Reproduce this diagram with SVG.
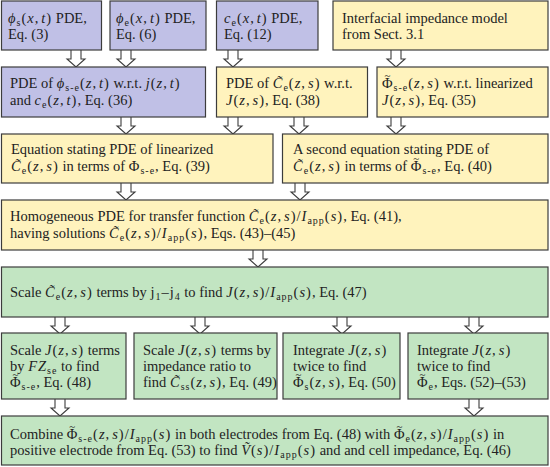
<svg xmlns="http://www.w3.org/2000/svg" xmlns:xlink="http://www.w3.org/1999/xlink" width="550" height="467" viewBox="0 0 550 467">
<style>
rect { stroke: #3c3c3c; stroke-width: 1.2; }
.p { fill: #c0c0e6; }
.y { fill: #fff3bd; }
.g { fill: #c2e5c2; }
text { font-family: "Liberation Serif", "DejaVu Serif", serif; font-size: 14.5px; fill: #222; }
.i { font-style: italic; }
.m { letter-spacing: 1px; }
.s { font-size: 10px; baseline-shift: -3px; font-style: normal; }
.t { font-size: 11px; font-style: normal; }
.arr { fill: #fff; stroke: #3c3c3c; stroke-width: 1.1; stroke-linejoin: miter; }
</style>
<defs>
<path id="a" class="arr" d="M-5,0 L-5,9 L-9,9 L0,17 L9,9 L5,9 L5,0"/>
</defs>
<g id="connectors">
<use xlink:href="#a" x="76" y="50"/>
<use xlink:href="#a" x="126" y="50"/>
<use xlink:href="#a" x="233" y="50"/>
<use xlink:href="#a" x="396" y="50"/>
<use xlink:href="#a" x="126" y="117"/>
<use xlink:href="#a" x="233" y="117"/>
<use xlink:href="#a" x="299" y="117"/>
<use xlink:href="#a" x="396" y="117"/>
<use xlink:href="#a" x="126" y="183"/>
<use xlink:href="#a" x="300" y="183"/>
<use xlink:href="#a" x="258" y="250"/>
<use xlink:href="#a" x="60" y="317"/>
<use xlink:href="#a" x="200" y="317"/>
<use xlink:href="#a" x="342" y="317"/>
<use xlink:href="#a" x="474" y="317"/>
<use xlink:href="#a" x="60" y="399"/>
<use xlink:href="#a" x="474" y="399"/>
</g>
<g id="n1">
<rect class="p" x="1.5" y="1" width="100" height="49"/>
<text x="8" y="23"><tspan class="m"><tspan class="i">ϕ</tspan><tspan class="s">s</tspan>(<tspan class="i">x</tspan>,<tspan class="i" dx="2">t</tspan>)</tspan> PDE,</text>
<text x="8" y="39">Eq. (3)</text>
</g>
<g id="n2">
<rect class="p" x="110" y="1" width="96" height="49"/>
<text x="116" y="23"><tspan class="m"><tspan class="i">ϕ</tspan><tspan class="s">e</tspan>(<tspan class="i">x</tspan>,<tspan class="i" dx="2">t</tspan>)</tspan> PDE,</text>
<text x="116" y="39">Eq. (6)</text>
</g>
<g id="n3">
<rect class="p" x="216.5" y="1" width="101.5" height="49"/>
<text x="224" y="23"><tspan class="m"><tspan class="i">c</tspan><tspan class="s">e</tspan>(<tspan class="i">x</tspan>,<tspan class="i" dx="2">t</tspan>)</tspan> PDE,</text>
<text x="224" y="39">Eq. (12)</text>
</g>
<g id="n4">
<rect class="y" x="333" y="1" width="215" height="49"/>
<text x="342" y="23">Interfacial impedance model</text>
<text x="342" y="39">from Sect. 3.1</text>
</g>
<g id="n5">
<rect class="p" x="1.5" y="67" width="204" height="50"/>
<text x="10" y="88">PDE of <tspan class="m"><tspan class="i">ϕ</tspan><tspan class="s">s-e</tspan>(<tspan class="i">z</tspan>,<tspan class="i" dx="2">t</tspan>)</tspan> w.r.t. <tspan class="m"><tspan class="i">j</tspan>(<tspan class="i">z</tspan>,<tspan class="i" dx="2">t</tspan>)</tspan></text>
<text x="10" y="105">and <tspan class="m"><tspan class="i">c</tspan><tspan class="s">e</tspan>(<tspan class="i">z</tspan>,<tspan class="i" dx="2">t</tspan>)</tspan>, Eq. (36)</text>
</g>
<g id="n6">
<rect class="y" x="216.5" y="67" width="151" height="50"/>
<text x="226" y="88">PDE of <tspan class="m"><tspan class="i">C̃</tspan><tspan class="s">e</tspan>(<tspan class="i">z</tspan>,<tspan class="i" dx="2">s</tspan>)</tspan> w.r.t.</text>
<text x="226" y="105"><tspan class="m"><tspan class="i">J</tspan>(<tspan class="i">z</tspan>,<tspan class="i" dx="2">s</tspan>)</tspan>, Eq. (38)</text>
</g>
<g id="n7">
<rect class="y" x="377" y="67" width="171" height="50"/>
<text x="382" y="88"><tspan class="m">Φ<tspan class="t" dx="-9.2" dy="-9">~</tspan><tspan class="s" dx="2.2" dy="9">s-e</tspan>(<tspan class="i">z</tspan>,<tspan class="i" dx="2">s</tspan>)</tspan> w.r.t. linearized</text>
<text x="382" y="105"><tspan class="m"><tspan class="i">J</tspan>(<tspan class="i">z</tspan>,<tspan class="i" dx="2">s</tspan>)</tspan>, Eq. (35)</text>
</g>
<g id="n8">
<rect class="y" x="1.5" y="134" width="271.5" height="49"/>
<text x="11" y="154">Equation stating PDE of linearized</text>
<text x="11" y="171"><tspan class="m"><tspan class="i">C̃</tspan><tspan class="s">e</tspan>(<tspan class="i">z</tspan>,<tspan class="i" dx="2">s</tspan>)</tspan> in terms of <tspan class="m">Φ<tspan class="s">s-e</tspan></tspan>, Eq. (39)</text>
</g>
<g id="n9">
<rect class="y" x="282.5" y="134" width="265.5" height="49"/>
<text x="293" y="154">A second equation stating PDE of</text>
<text x="293" y="171"><tspan class="m"><tspan class="i">C̃</tspan><tspan class="s">e</tspan>(<tspan class="i">z</tspan>,<tspan class="i" dx="2">s</tspan>)</tspan> in terms of <tspan class="m">Φ<tspan class="t" dx="-9.2" dy="-9">~</tspan><tspan class="s" dx="2.2" dy="9">s-e</tspan></tspan>, Eq. (40)</text>
</g>
<g id="n10">
<rect class="y" x="1.5" y="200" width="546.5" height="50"/>
<text x="10" y="221">Homogeneous PDE for transfer function <tspan class="m"><tspan class="i">C̃</tspan><tspan class="s">e</tspan>(<tspan class="i">z</tspan>,<tspan class="i" dx="2">s</tspan>)/<tspan class="i">I</tspan><tspan class="s">app</tspan>(<tspan class="i">s</tspan>)</tspan>, Eq. (41),</text>
<text x="10" y="238">having solutions <tspan class="m"><tspan class="i">C̃</tspan><tspan class="s">e</tspan>(<tspan class="i">z</tspan>,<tspan class="i" dx="2">s</tspan>)/<tspan class="i">I</tspan><tspan class="s">app</tspan>(<tspan class="i">s</tspan>)</tspan>, Eqs. (43)–(45)</text>
</g>
<g id="n11">
<rect class="g" x="1.5" y="267" width="546.5" height="50"/>
<text x="10" y="297">Scale <tspan class="m"><tspan class="i">C̃</tspan><tspan class="s">e</tspan>(<tspan class="i">z</tspan>,<tspan class="i" dx="2">s</tspan>)</tspan> terms by <tspan class="m">j<tspan class="s">1</tspan>–j<tspan class="s">4</tspan></tspan> to find <tspan class="m"><tspan class="i">J</tspan>(<tspan class="i">z</tspan>,<tspan class="i" dx="2">s</tspan>)/<tspan class="i">I</tspan><tspan class="s">app</tspan>(<tspan class="i">s</tspan>)</tspan>, Eq. (47)</text>
</g>
<g id="n12">
<rect class="g" x="1.5" y="333" width="124.5" height="66"/>
<text x="10" y="355">Scale <tspan class="m"><tspan class="i">J</tspan>(<tspan class="i">z</tspan>,<tspan class="i" dx="2">s</tspan>)</tspan> terms</text>
<text x="10" y="371">by <tspan class="m"><tspan class="i">FZ</tspan><tspan class="s">se</tspan></tspan> to find</text>
<text x="10" y="387"><tspan class="m">Φ<tspan class="t" dx="-9.2" dy="-9">~</tspan><tspan class="s" dx="2.2" dy="9">s-e</tspan></tspan>, Eq. (48)</text>
</g>
<g id="n13">
<rect class="g" x="134" y="333" width="143" height="66"/>
<text x="143" y="355">Scale <tspan class="m"><tspan class="i">J</tspan>(<tspan class="i">z</tspan>,<tspan class="i" dx="2">s</tspan>)</tspan> terms by</text>
<text x="143" y="371">impedance ratio to</text>
<text x="143" y="387">find <tspan class="m"><tspan class="i">C̃</tspan><tspan class="s">ss</tspan>(<tspan class="i">z</tspan>,<tspan class="i" dx="2">s</tspan>)</tspan>, Eq. (49)</text>
</g>
<g id="n14">
<rect class="g" x="283" y="333" width="117" height="66"/>
<text x="293" y="355">Integrate <tspan class="m"><tspan class="i">J</tspan>(<tspan class="i">z</tspan>,<tspan class="i" dx="2">s</tspan>)</tspan></text>
<text x="293" y="371">twice to find</text>
<text x="293" y="387"><tspan class="m">Φ<tspan class="t" dx="-9.2" dy="-9">~</tspan><tspan class="s" dx="2.2" dy="9">s</tspan>(<tspan class="i">z</tspan>,<tspan class="i" dx="2">s</tspan>)</tspan>, Eq. (50)</text>
</g>
<g id="n15">
<rect class="g" x="408" y="333" width="140" height="66"/>
<text x="417" y="355">Integrate <tspan class="m"><tspan class="i">J</tspan>(<tspan class="i">z</tspan>,<tspan class="i" dx="2">s</tspan>)</tspan></text>
<text x="417" y="371">twice to find</text>
<text x="417" y="387"><tspan class="m">Φ<tspan class="t" dx="-9.2" dy="-9">~</tspan><tspan class="s" dx="2.2" dy="9">e</tspan></tspan>, Eqs. (52)–(53)</text>
</g>
<g id="n16">
<rect class="g" x="1.5" y="416" width="546.5" height="49"/>
<text x="10" y="439">Combine <tspan class="m">Φ<tspan class="t" dx="-9.2" dy="-9">~</tspan><tspan class="s" dx="2.2" dy="9">s-e</tspan>(<tspan class="i">z</tspan>,<tspan class="i" dx="2">s</tspan>)/<tspan class="i">I</tspan><tspan class="s">app</tspan>(<tspan class="i">s</tspan>)</tspan> in both electrodes from Eq. (48) with <tspan class="m">Φ<tspan class="t" dx="-9.2" dy="-9">~</tspan><tspan class="s" dx="2.2" dy="9">e</tspan>(<tspan class="i">z</tspan>,<tspan class="i" dx="2">s</tspan>)/<tspan class="i">I</tspan><tspan class="s">app</tspan>(<tspan class="i">s</tspan>)</tspan> in</text>
<text x="10" y="455">positive electrode from Eq. (53) to find <tspan class="m"><tspan class="i">Ṽ</tspan>(<tspan class="i">s</tspan>)/<tspan class="i">I</tspan><tspan class="s">app</tspan>(<tspan class="i">s</tspan>)</tspan> and and cell impedance, Eq. (46)</text>
</g>
</svg>
